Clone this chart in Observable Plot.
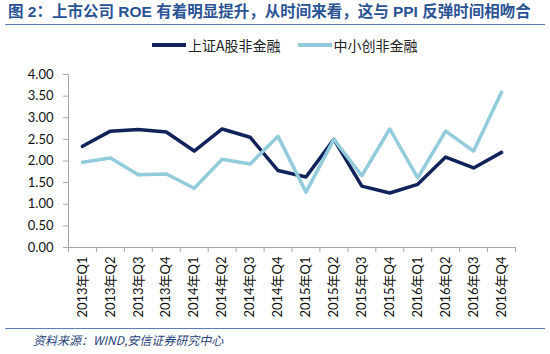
<!DOCTYPE html>
<html><head><meta charset="utf-8">
<script src="https://cdn.jsdelivr.net/npm/d3@7"></script>
<script src="https://cdn.jsdelivr.net/npm/@observablehq/plot@0.6"></script>
<style>
body{margin:0;background:#fff;width:550px;height:354px;overflow:hidden;font-family:"Noto Sans CJK SC",sans-serif;}
#title{height:25px;margin:0 5px;border-bottom:1.5px solid #5b7db0;box-sizing:border-box;font-weight:bold;font-size:15.5px;color:#2a5394;line-height:24px;padding-left:3px;white-space:nowrap;font-family:"Liberation Sans","Noto Sans CJK SC",sans-serif;}
#legend{height:35px;display:flex;align-items:center;padding-left:152px;padding-top:5px;box-sizing:border-box;font-size:14px;color:#222;}
.item{display:flex;align-items:center;margin-right:17px;}
.sw{width:34px;height:4px;margin-right:2px;}
#chart svg{display:block;}
#caption{margin:0 5px;border-top:1.5px solid #5b7db0;font-size:12px;font-style:italic;color:#1f3f7a;padding-left:28px;line-height:22px;}
</style></head>
<body>
<div id="title"></div>
<div id="legend"></div>
<div id="chart"></div>
<div id="caption"></div>
<script>
const titleText = "图 2：上市公司 ROE 有着明显提升，从时间来看，这与 PPI 反弹时间相吻合";
const captionText = "资料来源：WIND,安信证券研究中心";
const quarters = ["2013年Q1","2013年Q2","2013年Q3","2013年Q4","2014年Q1","2014年Q2","2014年Q3","2014年Q4","2015年Q1","2015年Q2","2015年Q3","2015年Q4","2016年Q1","2016年Q2","2016年Q3","2016年Q4"];
const shanghaiA = [2.34,2.69,2.73,2.67,2.23,2.74,2.55,1.78,1.63,2.50,1.42,1.26,1.46,2.09,1.84,2.20];
const smeChinext = [1.97,2.07,1.68,1.70,1.37,2.04,1.93,2.57,1.28,2.50,1.66,2.74,1.61,2.69,2.23,3.59];
const seriesNames = ["上证A股非金融","中小创非金融"];
const seriesColors = ["#12225a","#92cbdc"];
const yTicks = [0,0.5,1,1.5,2,2.5,3,3.5,4];

document.getElementById("title").textContent = titleText;
document.getElementById("caption").textContent = captionText;
const leg = document.getElementById("legend");
seriesNames.forEach((n,k)=>{
  const it = document.createElement("div"); it.className="item";
  const sw = document.createElement("div"); sw.className="sw"; sw.style.background=seriesColors[k];
  const tx = document.createElement("span"); tx.textContent=n;
  it.appendChild(sw); it.appendChild(tx); leg.appendChild(it);
});

const rows = quarters.flatMap((q,i)=>[
  {x:i+0.5, v:shanghaiA[i], s:seriesNames[0]},
  {x:i+0.5, v:smeChinext[i], s:seriesNames[1]}
]);

const axisColor = "#a6a6a6";
const chart = Plot.plot({
  width:550, height:268, marginLeft:68, marginRight:35, marginTop:14, marginBottom:81,
  x:{type:"linear", domain:[0, quarters.length]},
  y:{domain:[0,4]},
  color:{domain:seriesNames, range:seriesColors},
  style:{fontFamily:"Lato, 'Noto Sans CJK SC', sans-serif", fontSize:"13px", color:"#111", background:"white"},
  marks:[
    Plot.axisY({ticks:yTicks, tickFormat:d=>d.toFixed(2), tickSize:5, tickPadding:10, stroke:axisColor, label:null, fontSize:13, fill:"#111"}),
    Plot.axisX({ticks:d3.range(quarters.length+1), tickFormat:()=>"", tickSize:5, stroke:axisColor, label:null}),
    Plot.axisX({ticks:quarters.map((q,i)=>i+0.5), tickFormat:d=>quarters[Math.floor(d)], tickSize:0, tickPadding:9, tickRotate:-90, label:null, fontSize:13, fill:"#111"}),
    Plot.ruleX([0], {stroke:axisColor}),
    Plot.ruleY([0], {stroke:axisColor}),
    Plot.line(rows, {x:"x", y:"v", stroke:"s", z:"s", strokeWidth:3.5, strokeLinejoin:"round"})
  ]
});
document.getElementById("chart").appendChild(chart);
</script>
</body></html>
